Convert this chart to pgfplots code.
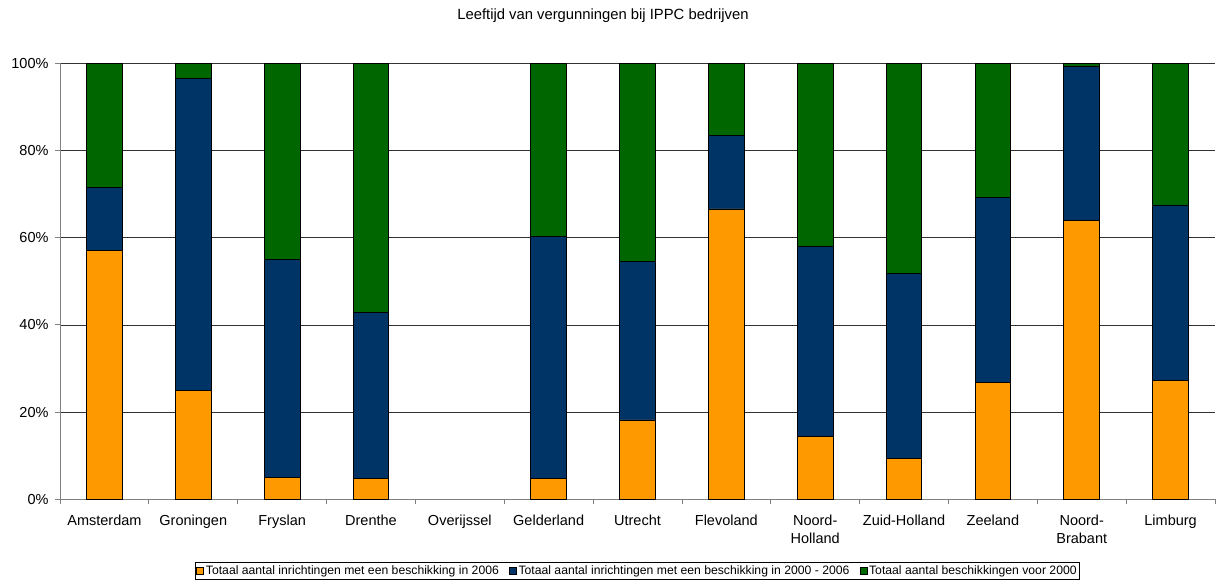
\documentclass[border=0pt]{standalone}
\usepackage{fontspec}
\setmainfont{Liberation Sans}
\usepackage{pgfplots}
\pgfplotsset{compat=1.18}
\definecolor{orng}{HTML}{FF9900}
\definecolor{navy}{HTML}{003366}
\definecolor{grn}{HTML}{006600}
\begin{document}
\begin{tikzpicture}[x=1pt,y=1pt]
\path (0,0) rectangle (1221,580);
\node[font=\fontsize{14.8}{17}\selectfont] at (603,564) {Leeftijd van vergunningen bij IPPC bedrijven};
\begin{axis}[
    at={(60pt,80.7pt)}, anchor=south west,
    scale only axis, width=1155pt, height=436pt,
    ybar stacked, bar width=35.7pt,
    xmin=-0.5, xmax=12.5, ymin=0, ymax=100,
    axis x line*=bottom, axis y line*=left,
    axis line style={gray, line width=0.8pt},
    xtick={0,...,12},
    xticklabels={Amsterdam,Groningen,Fryslan,Drenthe,Overijssel,Gelderland,Utrecht,Flevoland,{Noord-\\Holland},Zuid-Holland,Zeeland,{Noord-\\Brabant},Limburg},
    xticklabel style={align=center, font=\fontsize{14.5}{18.3}\selectfont, yshift=-7pt},
    major x tick style={draw=none},
    minor xtick={-0.5,0.5,...,12.5},
    minor x tick style={gray, line width=0.8pt},
    minor tick length=5pt,
    tick align=outside,
    ytick={0,20,...,100},
    yticklabel={\pgfmathprintnumber{\tick}\%},
    yticklabel style={font=\fontsize{14.5}{17}\selectfont, xshift=-3pt},
    major y tick style={gray, line width=0.8pt},
    major tick length=5pt,
    /pgf/number format/assume math mode=true,
    ymajorgrids, grid style={black!80, line width=0.6pt},
    legend style={at={(0.5,-0.164)}, anchor=center, draw=black, line width=0.5pt,
        font=\fontsize{12.2}{13}\selectfont, inner sep=1pt,
        legend columns=3,
        /tikz/every even column/.append style={column sep=8pt}},
    legend image code/.code={\draw[#1, draw=black, line width=0.6pt] (0pt,-3.5pt) rectangle (7pt,3.5pt);},
    every axis plot/.append style={draw=black, line width=0.8pt},
]
\addplot[fill=orng] coordinates {(0,57.1) (1,25.0) (2,5.0) (3,4.7) (5,4.7) (6,18.2) (7,66.6) (8,14.5) (9,9.4) (10,26.9) (11,64.0) (12,27.2)};
\addplot[fill=navy] coordinates {(0,14.4) (1,71.5) (2,50.1) (3,38.2) (5,55.6) (6,36.4) (7,16.8) (8,43.4) (9,42.5) (10,42.4) (11,35.4) (12,40.3)};
\addplot[fill=grn] coordinates {(0,28.5) (1,3.5) (2,44.9) (3,57.1) (5,39.7) (6,45.4) (7,16.6) (8,42.1) (9,48.1) (10,30.7) (11,0.6) (12,32.5)};
\legend{Totaal aantal inrichtingen met een beschikking in 2006,Totaal aantal inrichtingen met een beschikking in 2000 - 2006,Totaal aantal beschikkingen voor 2000}
\end{axis}
\end{tikzpicture}
\end{document}
